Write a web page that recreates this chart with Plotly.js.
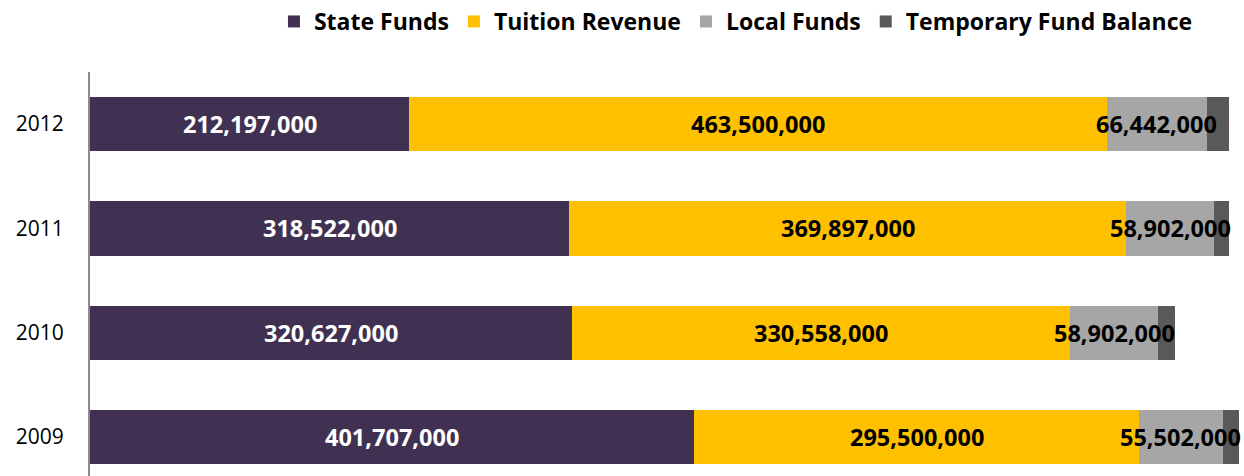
<!DOCTYPE html>
<html>
<head>
<meta charset="utf-8">
<script src="https://cdn.plot.ly/plotly-3.0.1.min.js"></script>
<style>html,body{margin:0;padding:0;background:#fff;}#chart{width:1244px;height:476px;}</style>
</head>
<body>
<div id="chart"></div>
<script>
const years = ['2009', '2010', '2011', '2012'];
const stateFunds = [401707000, 320627000, 318522000, 212197000];
const tuitionRevenue = [295500000, 330558000, 369897000, 463500000];
const localFunds = [55502000, 58902000, 58902000, 66442000];
const temporaryFundBalance = [11000000, 10800000, 9500000, 15000000];
const seriesNames = ['State Funds', 'Tuition Revenue', 'Local Funds', 'Temporary Fund Balance'];

const colors = ['#403152', '#FFC000', '#A6A6A6', '#595959'];
const textColors = ['#FFFFFF', '#000000', '#000000', '#000000'];
const seriesValues = [stateFunds, tuitionRevenue, localFunds, temporaryFundBalance];
const fmt = v => v.toLocaleString('en-US');
const labelFont = 'Open Sans, Lato, sans-serif';

const traces = seriesValues.map((vals, i) => ({
  type: 'bar',
  orientation: 'h',
  name: seriesNames[i],
  y: years,
  x: vals,
  marker: {color: colors[i], line: {width: 0}},
  textposition: 'none',
  hoverinfo: 'skip'
}));

// value labels drawn above all bars, centred on each segment
// (y given as the category index of each year)
const annotations = [];
for (let i = 0; i < 3; i++) {
  years.forEach((yr, k) => {
    let base = 0;
    for (let j = 0; j < i; j++) base += seriesValues[j][k];
    annotations.push({
      x: base + seriesValues[i][k] / 2,
      y: years.indexOf(yr),
      xref: 'x', yref: 'y',
      text: '<b>' + fmt(seriesValues[i][k]) + '</b>',
      showarrow: false,
      xanchor: 'center', yanchor: 'middle',
      font: {family: labelFont, size: 23.5, color: textColors[i]}
    });
  });
}

const layout = {
  width: 1244,
  height: 476,
  barmode: 'stack',
  bargap: 0.48,
  paper_bgcolor: '#FFFFFF',
  plot_bgcolor: '#FFFFFF',
  margin: {l: 90, r: 0, t: 72, b: 0, pad: 0},
  showlegend: true,
  legend: {
    orientation: 'h',
    x: 0.5916, xref: 'container', xanchor: 'center',
    y: 1.0, yref: 'container', yanchor: 'top',
    font: {family: labelFont, size: 23, color: '#000000', weight: 'bold'},
    itemwidth: 30,
    traceorder: 'normal',
    bgcolor: 'rgba(0,0,0,0)'
  },
  annotations: annotations,
  xaxis: {
    range: [0, 767000000],
    showgrid: false,
    zeroline: false,
    showticklabels: false,
    showline: false,
    ticks: ''
  },
  yaxis: {
    type: 'category',
    categoryorder: 'array',
    categoryarray: years,
    range: [-0.374, 3.5],
    showgrid: false,
    zeroline: false,
    showline: true,
    linecolor: '#8C8C8C',
    linewidth: 2,
    ticks: '',
    ticklabelstandoff: 20,
    tickfont: {family: labelFont, size: 21, color: '#000000'}
  }
};

Plotly.newPlot('chart', traces, layout, {displayModeBar: false, staticPlot: true});
</script>
</body>
</html>
